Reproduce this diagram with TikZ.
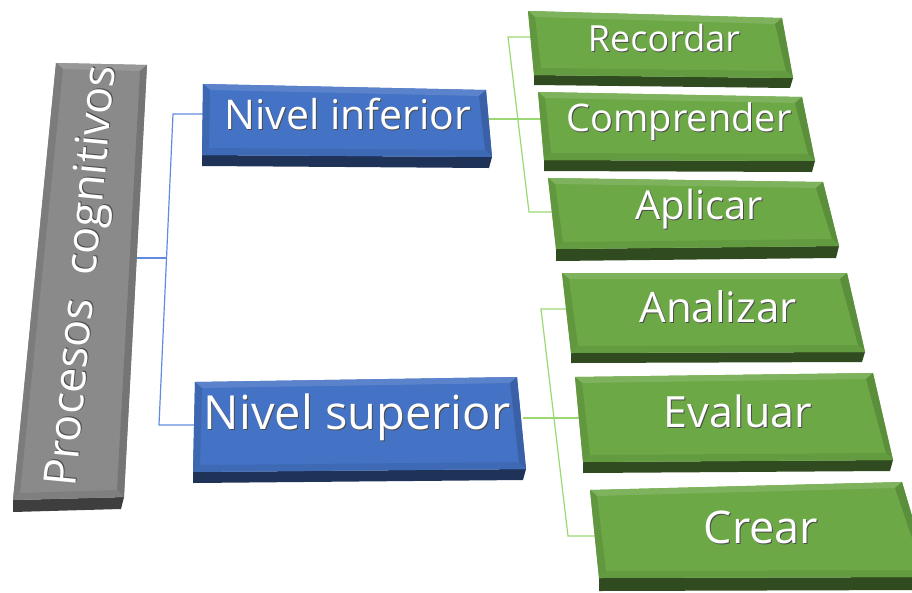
\documentclass[tikz,border=0pt]{standalone}
\usepackage{fontspec}
\setmainfont{Open Sans}
\usepackage{xcolor}
\definecolor{verdoso}{RGB}{108,168,70}
\definecolor{azulado}{RGB}{68,114,196}
\definecolor{grisaceo}{RGB}{138,138,138}
\definecolor{lineaazul}{RGB}{95,140,225}
\definecolor{lineaverde}{RGB}{155,215,115}
\usepackage{tikz}
\usetikzlibrary{calc}

\tikzset{
  texto/.style={inner sep=0pt},
  tam/.style={font=\fontsize{#1}{#1}\selectfont},
  conector/.style={line width=1.2pt}
}

% texto blanco con sombra
\newcommand{\relieve}[1]{\rlap{\kern1pt\raisebox{-1pt}{\color{black!70}#1}}{\color{white}#1}}

% caja biselada: nombre, color, esquinas (sup izq, sup der, inf der, inf izq), grosor
\newcommand{\caja}[7]{
  \coordinate (#1-1) at (#3); \coordinate (#1-2) at (#4);
  \coordinate (#1-3) at (#5); \coordinate (#1-4) at (#6);
  \coordinate (#1-a) at ($(#1-1)+(7,6)$); \coordinate (#1-b) at ($(#1-2)+(-7,6)$);
  \coordinate (#1-c) at ($(#1-3)+(-7,-7)$); \coordinate (#1-d) at ($(#1-4)+(7,-7)$);
  % canto oscuro
  \fill[#2!45!black] (#1-4) -- (#1-3) -- ($(#1-3)+(-3,#7)$) -- ($(#1-4)+(0,#7)$) -- cycle;
  % cara
  \fill[#2] (#1-1) -- (#1-2) -- (#1-3) -- (#1-4) -- cycle;
  % bisel
  \fill[#2!88!white] (#1-1) -- (#1-2) -- (#1-b) -- (#1-a) -- cycle;
  \fill[#2!90!black] (#1-1) -- (#1-a) -- (#1-d) -- (#1-4) -- cycle;
  \fill[#2!85!black] (#1-2) -- (#1-3) -- (#1-c) -- (#1-b) -- cycle;
  \fill[#2!92!black] (#1-4) -- (#1-d) -- (#1-c) -- (#1-3) -- cycle;
}

\begin{document}
\begin{tikzpicture}[x=1pt, y=-1pt]
  \clip (0,0) rectangle (912,592);

  % Puntos de union
  \coordinate (procesos-der) at (135,258);
  \coordinate (codo-a) at (166.5,258);
  \coordinate (codo-b) at (173,114);
  \coordinate (codo-c) at (159,425);
  \coordinate (inferior-izq) at (204,114);
  \coordinate (superior-izq) at (195,425);
  \coordinate (inferior-der) at (489,119);
  \coordinate (superior-der) at (523,418);
  \coordinate (codo-d) at (508,37);
  \coordinate (codo-e) at (529,212);
  \coordinate (codo-f) at (541,309);
  \coordinate (codo-g) at (568,536);
  \coordinate (recordar-izq) at (535,37);
  \coordinate (comprender-izq) at (545,119);
  \coordinate (aplicar-izq) at (557,212);
  \coordinate (analizar-izq) at (571,309);
  \coordinate (evaluar-izq) at (586,418);
  \coordinate (crear-izq) at (602,536);

  % Conectores
  \draw[conector, lineaazul] (procesos-der) -- (codo-a);
  \draw[conector, lineaazul] (inferior-izq) -- (codo-b) -- (codo-c) -- (superior-izq);
  \draw[conector, lineaverde] (recordar-izq) -- (codo-d) -- (codo-e) -- (aplicar-izq);
  \draw[conector, lineaverde] (inferior-der) -- (comprender-izq);
  \draw[conector, lineaverde] (analizar-izq) -- (codo-f) -- (codo-g) -- (crear-izq);
  \draw[conector, lineaverde] (superior-der) -- (evaluar-izq);

  % Cajas
  \caja{procesos}{grisaceo}{56,63}{147,65}{124,497}{13,500}{12}
  \caja{inferior}{azulado}{203,84}{486,90}{492,157}{202,155}{11}
  \caja{superior}{azulado}{195,382}{517,377}{526,469}{193,472}{11}
  \caja{recordar}{verdoso}{528,11}{782,18}{793,78}{534,75}{10}
  \caja{comprender}{verdoso}{538,92}{802,97}{815,161}{544,160}{11}
  \caja{aplicar}{verdoso}{548,178}{823,182}{839,246}{556,249}{12}
  \caja{analizar}{verdoso}{562,273}{847,273}{865,352}{571,353}{10}
  \caja{evaluar}{verdoso}{575,377}{873,373}{893,460}{583,462}{11}
  \caja{crear}{verdoso}{590,490}{902,482}{930,577}{599,578}{13}

  % Textos
  \node[texto, tam=45, rotate=84.6] (t-procesos) at (85,276) {\relieve{Procesos\ \ cognitivos}};
  \node[texto, tam=41] (t-inferior) at (348,115) {\relieve{Nivel inferior}};
  \node[texto, tam=47] (t-superior) at (357,418) {\relieve{Nivel superior}};
  \node[texto, tam=36] (t-recordar) at (664,38) {\relieve{Recordar}};
  \node[texto, tam=38] (t-comprender) at (679,122) {\relieve{Comprender}};
  \node[texto, tam=40] (t-aplicar) at (699,210) {\relieve{Aplicar}};
  \node[texto, tam=42] (t-analizar) at (718,307) {\relieve{Analizar}};
  \node[texto, tam=43] (t-evaluar) at (738,412) {\relieve{Evaluar}};
  \node[texto, tam=45] (t-crear) at (761,528) {\relieve{Crear}};
\end{tikzpicture}
\end{document}
